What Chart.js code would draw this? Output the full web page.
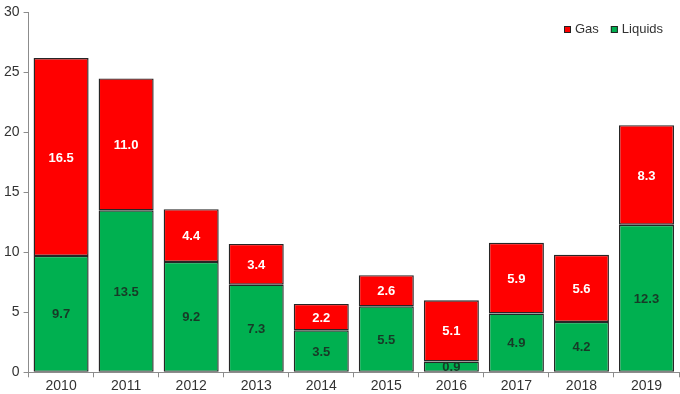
<!DOCTYPE html>
<html>
<head>
<meta charset="utf-8">
<script src="https://cdn.jsdelivr.net/npm/chart.js@4/dist/chart.umd.min.js"></script>
<style>
html,body{margin:0;padding:0;background:#fff;}
#wrap{width:680px;height:394px;position:relative;}
</style>
</head>
<body>
<div id="wrap"><canvas id="c"></canvas></div>
<script>
const categories = ['2010','2011','2012','2013','2014','2015','2016','2017','2018','2019'];
const liquids = [9.7, 13.5, 9.2, 7.3, 3.5, 5.5, 0.9, 4.9, 4.2, 12.3];
const gas = [16.5, 11.0, 4.4, 3.4, 2.2, 2.6, 5.1, 5.9, 5.6, 8.3];
const yTicks = [0, 5, 10, 15, 20, 25, 30];

const FONT = '"Liberation Sans", Arial, sans-serif';

const labelPlugin = {
  id: 'segLabels',
  afterDatasetsDraw(chart) {
    const ctx = chart.ctx;
    ctx.save();
    ctx.font = 'bold 13px ' + FONT;
    ctx.textAlign = 'center';
    ctx.textBaseline = 'middle';
    chart.data.datasets.forEach((ds, di) => {
      const meta = chart.getDatasetMeta(di);
      meta.data.forEach((el, i) => {
        const v = ds.data[i];
        const y = (el.y + el.base) / 2;
        ctx.fillStyle = ds.label === 'Gas' ? '#ffffff' : '#173a27';
        ctx.fillText(v.toFixed(1), el.x, y + 1);
      });
    });
    ctx.restore();
  }
};

// legend drawn inside the chart area, top-right (Gas first, then Liquids)
const legendPlugin = {
  id: 'insideLegend',
  afterDraw(chart) {
    const ctx = chart.ctx;
    const area = chart.chartArea;
    const items = chart.data.datasets.slice().reverse();
    ctx.save();
    ctx.font = '13px ' + FONT;
    ctx.textBaseline = 'middle';
    ctx.textAlign = 'left';
    const box = 7, gapText = 4, gapItem = 12;
    const widths = items.map(ds => box + gapText + ctx.measureText(ds.label).width);
    const total = widths.reduce((a, b) => a + b, 0) + gapItem * (items.length - 1);
    let x = Math.round(area.right - 16 - total);
    const cy = Math.round(area.top + 17);
    items.forEach((ds, i) => {
      ctx.fillStyle = ds.backgroundColor;
      ctx.fillRect(x, cy - 3, box, box);
      ctx.strokeStyle = '#222222';
      ctx.lineWidth = 1;
      ctx.strokeRect(x + 0.5, cy - 3 + 0.5, box - 1, box - 1);
      ctx.fillStyle = '#333333';
      ctx.fillText(ds.label, x + box + gapText, cy);
      x += widths[i] + gapItem;
    });
    ctx.restore();
  }
};

new Chart(document.getElementById('c'), {
  type: 'bar',
  data: {
    labels: categories,
    datasets: [
      { label: 'Liquids', data: liquids, backgroundColor: '#00b050', borderColor: '#262626', borderWidth: 1.4, borderSkipped: false },
      { label: 'Gas', data: gas, backgroundColor: '#ff0000', borderColor: '#262626', borderWidth: 1.4, borderSkipped: false }
    ]
  },
  options: {
    responsive: true,
    maintainAspectRatio: false,
    animation: false,
    layout: { padding: { top: 3, right: 1, left: 0, bottom: 0 } },
    datasets: { bar: { categoryPercentage: 1.0, barPercentage: 0.846 } },
    plugins: {
      legend: { display: false },
      tooltip: { enabled: false }
    },
    scales: {
      x: {
        stacked: true,
        grid: { display: true, drawOnChartArea: false, offset: true, color: '#8c8c8c', tickLength: 5 },
        border: { color: '#8c8c8c' },
        ticks: { color: '#333333', font: { family: FONT, size: 14, lineHeight: 1.05 }, padding: 1 }
      },
      y: {
        stacked: true,
        min: 0, max: 30,
        afterBuildTicks(axis) { axis.ticks = yTicks.map(v => ({ value: v })); },
        grid: { display: true, drawOnChartArea: false, color: '#8c8c8c', tickLength: 5 },
        border: { color: '#8c8c8c' },
        ticks: { color: '#333333', font: { family: FONT, size: 14 }, padding: 4 }
      }
    }
  },
  plugins: [labelPlugin, legendPlugin]
});
</script>
</body>
</html>
